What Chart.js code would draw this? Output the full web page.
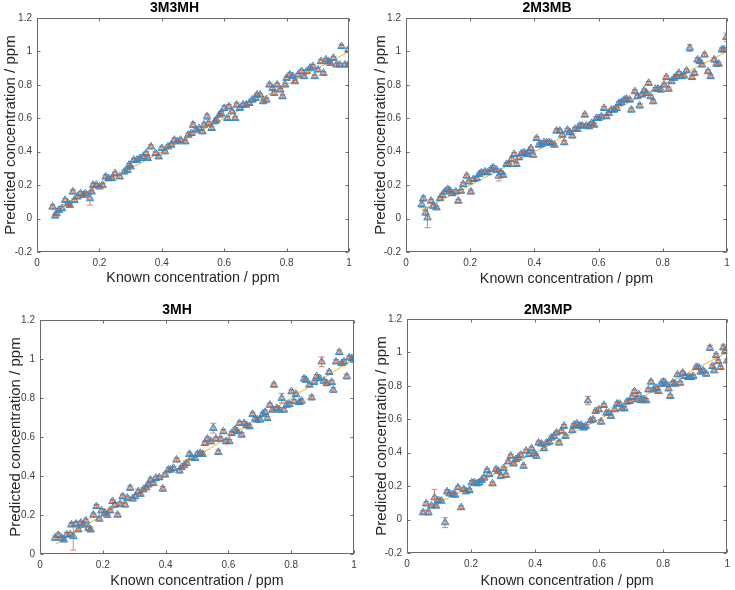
<!DOCTYPE html>
<html>
<head>
<meta charset="utf-8">
<script src="https://cdn.jsdelivr.net/npm/chart.js@4"></script>
<style>
  html,body{margin:0;padding:0;background:#fff;}
  body{width:735px;height:590px;position:relative;overflow:hidden;}
  canvas{position:absolute;}
</style>
</head>
<body>
<canvas id="c1" width="367" height="293" style="left:0px;top:0px"></canvas>
<canvas id="c2" width="368" height="293" style="left:367px;top:0px"></canvas>
<canvas id="c3" width="367" height="297" style="left:0px;top:293px"></canvas>
<canvas id="c4" width="368" height="297" style="left:367px;top:293px"></canvas>
<script>
// ---------- data ----------
const titles = ['3M3MH', '2M3MB', '3MH', '2M3MP'];
const xAxisTitle = 'Known concentration / ppm';
const yAxisTitle = 'Predicted concentration / ppm';
const xTickValues = [0, 0.2, 0.4, 0.6, 0.8, 1];
const xTickLabels = ['0', '0.2', '0.4', '0.6', '0.8', '1'];
const yTickValuesA = [-0.2, 0, 0.2, 0.4, 0.6, 0.8, 1, 1.2];
const yTickLabelsA = ['-0.2', '0', '0.2', '0.4', '0.6', '0.8', '1', '1.2'];
const yTickValuesB = [0, 0.2, 0.4, 0.6, 0.8, 1, 1.2];
const yTickLabelsB = ['0', '0.2', '0.4', '0.6', '0.8', '1', '1.2'];
const idealX = [0.05, 1];
const idealY = [0.05, 1];

// 3M3MH
const known1 = [0.050,0.058,0.063,0.070,0.080,0.090,0.100,0.105,0.115,0.120,
 0.130,0.140,0.150,0.155,0.170,0.175,0.180,0.190,0.200,0.210,
 0.220,0.230,0.240,0.250,0.265,0.280,0.290,0.295,0.300,0.310,
 0.320,0.330,0.340,0.350,0.355,0.365,0.380,0.390,0.400,0.410,
 0.420,0.430,0.440,0.450,0.460,0.475,0.485,0.495,0.500,0.510,
 0.520,0.530,0.535,0.545,0.550,0.560,0.570,0.575,0.585,0.590,
 0.600,0.610,0.615,0.625,0.635,0.640,0.650,0.660,0.670,0.680,
 0.690,0.700,0.705,0.715,0.725,0.735,0.745,0.755,0.760,0.770,
 0.780,0.787,0.795,0.800,0.810,0.820,0.827,0.837,0.848,0.856,
 0.864,0.875,0.884,0.890,0.900,0.910,0.918,0.926,0.934,0.940,
 0.950,0.960,0.970,0.976,0.987,0.998,0.998];
const pred1 = [0.070,0.016,0.030,0.050,0.060,0.110,0.090,0.080,0.160,0.110,
 0.130,0.150,0.140,0.150,0.120,0.160,0.200,0.200,0.190,0.200,
 0.250,0.240,0.240,0.270,0.250,0.280,0.290,0.320,0.310,0.350,
 0.350,0.360,0.370,0.390,0.360,0.430,0.390,0.370,0.420,0.400,
 0.430,0.440,0.470,0.460,0.470,0.460,0.500,0.510,0.560,0.530,
 0.540,0.520,0.560,0.610,0.570,0.540,0.580,0.590,0.620,0.630,
 0.660,0.600,0.670,0.640,0.600,0.680,0.660,0.680,0.680,0.690,
 0.710,0.720,0.740,0.740,0.700,0.710,0.800,0.780,0.750,0.800,
 0.770,0.730,0.800,0.840,0.860,0.850,0.820,0.860,0.880,0.850,
 0.880,0.900,0.910,0.850,0.890,0.940,0.870,0.950,0.940,0.930,
 0.960,0.920,0.920,1.030,0.920,1.010,0.920];
const err1 = [0.012,0.010,0.008,0.010,0.012,0.010,0.008,0.010,0.012,0.010,
 0.010,0.012,0.010,0.008,0.040,0.010,0.012,0.010,0.008,0.010,
 0.012,0.010,0.010,0.008,0.010,0.012,0.010,0.010,0.008,0.010,
 0.010,0.012,0.010,0.010,0.008,0.012,0.010,0.010,0.012,0.008,
 0.010,0.010,0.012,0.008,0.010,0.010,0.012,0.010,0.015,0.010,
 0.008,0.010,0.012,0.015,0.010,0.010,0.008,0.012,0.010,0.010,
 0.015,0.010,0.012,0.010,0.010,0.012,0.008,0.010,0.012,0.010,
 0.010,0.012,0.010,0.008,0.010,0.012,0.010,0.010,0.012,0.010,
 0.008,0.012,0.010,0.010,0.012,0.010,0.008,0.010,0.012,0.010,
 0.010,0.008,0.012,0.010,0.010,0.012,0.010,0.008,0.010,0.012,
 0.010,0.010,0.008,0.012,0.010,0.015,0.010];

// 2M3MB
const known2 = [0.049,0.054,0.061,0.067,0.078,0.085,0.095,0.106,0.113,0.121,
 0.130,0.137,0.144,0.155,0.163,0.171,0.178,0.189,0.196,0.202,
 0.210,0.220,0.228,0.235,0.246,0.254,0.265,0.272,0.282,0.289,
 0.296,0.303,0.313,0.320,0.329,0.337,0.344,0.352,0.360,0.368,
 0.376,0.383,0.389,0.396,0.407,0.414,0.422,0.430,0.438,0.445,
 0.453,0.462,0.469,0.479,0.487,0.493,0.503,0.510,0.518,0.526,
 0.534,0.541,0.549,0.557,0.562,0.570,0.578,0.586,0.593,0.600,
 0.609,0.617,0.624,0.632,0.640,0.648,0.656,0.663,0.671,0.680,
 0.687,0.697,0.702,0.713,0.721,0.728,0.735,0.742,0.749,0.756,
 0.762,0.770,0.777,0.785,0.794,0.804,0.811,0.818,0.827,0.835,
 0.842,0.850,0.858,0.866,0.874,0.884,0.891,0.899,0.908,0.915,
 0.922,0.930,0.941,0.949,0.960,0.967,0.974,0.984,0.991,0.998];
const pred2 = [0.085,0.120,0.035,0.005,0.105,0.075,0.065,0.120,0.140,0.160,
 0.175,0.165,0.150,0.160,0.105,0.165,0.205,0.255,0.220,0.160,
 0.235,0.240,0.265,0.275,0.280,0.275,0.295,0.305,0.290,0.255,
 0.275,0.260,0.325,0.325,0.355,0.385,0.325,0.365,0.390,0.395,
 0.385,0.400,0.420,0.380,0.480,0.440,0.445,0.455,0.455,0.455,
 0.450,0.440,0.525,0.525,0.500,0.455,0.530,0.515,0.495,0.535,
 0.535,0.555,0.555,0.620,0.555,0.550,0.570,0.560,0.600,0.600,
 0.610,0.660,0.610,0.630,0.650,0.650,0.660,0.690,0.695,0.710,
 0.715,0.710,0.650,0.760,0.730,0.675,0.740,0.765,0.750,0.810,
 0.730,0.700,0.775,0.775,0.770,0.800,0.845,0.775,0.820,0.840,
 0.850,0.870,0.850,0.855,0.885,1.020,0.845,0.870,0.950,0.940,
 0.920,0.980,0.880,0.850,0.950,0.925,0.925,1.010,1.010,1.085];
const err2 = [0.020,0.015,0.015,0.060,0.010,0.012,0.010,0.010,0.012,0.010,
 0.012,0.010,0.010,0.012,0.010,0.010,0.012,0.010,0.010,0.012,
 0.010,0.012,0.010,0.010,0.012,0.010,0.010,0.012,0.010,0.030,
 0.010,0.012,0.010,0.010,0.012,0.010,0.010,0.012,0.010,0.010,
 0.012,0.010,0.010,0.012,0.010,0.010,0.012,0.010,0.010,0.012,
 0.010,0.010,0.012,0.010,0.010,0.012,0.010,0.010,0.012,0.010,
 0.010,0.012,0.010,0.010,0.012,0.010,0.010,0.012,0.010,0.010,
 0.012,0.010,0.010,0.012,0.010,0.010,0.012,0.010,0.010,0.012,
 0.010,0.010,0.012,0.010,0.010,0.012,0.010,0.010,0.012,0.010,
 0.010,0.012,0.010,0.010,0.012,0.010,0.010,0.012,0.010,0.010,
 0.012,0.010,0.010,0.012,0.010,0.020,0.010,0.010,0.012,0.010,
 0.010,0.012,0.010,0.010,0.012,0.010,0.010,0.012,0.010,0.025];

// 3MH
const known3 = [0.048,0.058,0.069,0.076,0.085,0.096,0.100,0.106,0.115,0.122,
 0.130,0.138,0.146,0.154,0.161,0.170,0.180,0.189,0.196,0.207,
 0.214,0.223,0.231,0.239,0.247,0.255,0.263,0.271,0.278,0.287,
 0.295,0.303,0.313,0.320,0.329,0.338,0.345,0.352,0.361,0.369,
 0.380,0.391,0.398,0.409,0.416,0.425,0.435,0.444,0.451,0.459,
 0.467,0.476,0.483,0.494,0.501,0.510,0.518,0.525,0.533,0.544,
 0.552,0.560,0.568,0.575,0.584,0.592,0.603,0.610,0.621,0.628,
 0.635,0.642,0.650,0.658,0.667,0.677,0.685,0.692,0.701,0.709,
 0.717,0.724,0.732,0.741,0.745,0.754,0.762,0.770,0.777,0.786,
 0.794,0.801,0.809,0.815,0.826,0.833,0.841,0.847,0.858,0.865,
 0.873,0.881,0.890,0.897,0.904,0.913,0.921,0.929,0.934,0.943,
 0.953,0.961,0.968,0.977,0.985,0.993,1.000];
const pred3 = [0.082,0.096,0.082,0.073,0.099,0.100,0.150,0.090,0.154,0.125,
 0.159,0.150,0.170,0.133,0.125,0.200,0.244,0.180,0.222,0.210,
 0.200,0.222,0.270,0.252,0.200,0.256,0.295,0.252,0.287,0.338,
 0.283,0.295,0.320,0.307,0.330,0.341,0.355,0.380,0.363,0.389,
 0.392,0.334,0.406,0.432,0.432,0.440,0.483,0.427,0.444,0.454,
 0.466,0.512,0.495,0.491,0.512,0.517,0.512,0.568,0.590,0.577,
 0.645,0.590,0.522,0.590,0.628,0.577,0.577,0.619,0.636,0.628,
 0.670,0.611,0.670,0.659,0.654,0.717,0.693,0.688,0.688,0.717,
 0.727,0.696,0.764,0.739,0.867,0.747,0.739,0.799,0.739,0.764,
 0.768,0.833,0.782,0.819,0.778,0.785,0.898,0.892,0.867,0.802,
 0.881,0.910,0.901,0.986,0.887,0.875,0.932,0.881,0.841,0.986,
 1.034,0.978,0.986,0.910,1.007,1.003,0.995];
const err3 = [0.010,0.012,0.010,0.010,0.012,0.010,0.010,0.070,0.012,0.010,
 0.010,0.012,0.010,0.010,0.012,0.010,0.010,0.012,0.010,0.010,
 0.012,0.010,0.010,0.012,0.010,0.010,0.012,0.010,0.010,0.012,
 0.010,0.010,0.012,0.010,0.010,0.012,0.010,0.010,0.012,0.010,
 0.010,0.012,0.010,0.010,0.012,0.010,0.010,0.012,0.010,0.010,
 0.012,0.010,0.010,0.012,0.010,0.010,0.012,0.010,0.010,0.012,
 0.025,0.010,0.012,0.010,0.010,0.012,0.010,0.010,0.012,0.010,
 0.010,0.012,0.010,0.010,0.012,0.010,0.010,0.012,0.010,0.010,
 0.012,0.010,0.010,0.012,0.010,0.010,0.012,0.025,0.010,0.010,
 0.012,0.010,0.010,0.012,0.010,0.010,0.012,0.010,0.010,0.012,
 0.010,0.010,0.012,0.025,0.010,0.012,0.010,0.010,0.012,0.010,
 0.012,0.010,0.010,0.012,0.010,0.010,0.012];

// 2M3MP
const known4 = [0.050,0.060,0.067,0.076,0.086,0.091,0.098,0.107,0.119,0.125,
 0.133,0.143,0.150,0.159,0.169,0.177,0.184,0.195,0.202,0.210,
 0.219,0.226,0.233,0.241,0.250,0.257,0.267,0.278,0.285,0.293,
 0.302,0.309,0.316,0.324,0.333,0.340,0.347,0.355,0.364,0.372,
 0.381,0.389,0.397,0.404,0.411,0.420,0.428,0.436,0.444,0.451,
 0.459,0.467,0.475,0.482,0.490,0.495,0.516,0.521,0.530,0.537,
 0.544,0.552,0.558,0.565,0.573,0.581,0.589,0.599,0.606,0.615,
 0.623,0.630,0.637,0.648,0.656,0.664,0.671,0.679,0.687,0.695,
 0.703,0.710,0.716,0.724,0.731,0.739,0.747,0.754,0.762,0.770,
 0.778,0.785,0.793,0.801,0.809,0.817,0.822,0.830,0.837,0.845,
 0.853,0.861,0.868,0.879,0.886,0.894,0.903,0.910,0.917,0.925,
 0.934,0.946,0.954,0.959,0.965,0.972,0.979,0.988,0.993,1.000];
const pred4 = [0.042,0.095,0.042,0.082,0.131,0.082,0.115,0.111,-0.018,0.167,
 0.155,0.151,0.147,0.191,0.072,0.181,0.167,0.175,0.221,0.221,
 0.215,0.221,0.235,0.250,0.294,0.270,0.215,0.300,0.290,0.260,
 0.306,0.266,0.346,0.380,0.334,0.360,0.370,0.386,0.320,0.410,
 0.390,0.425,0.394,0.380,0.459,0.453,0.425,0.459,0.465,0.489,
 0.499,0.519,0.459,0.529,0.559,0.499,0.533,0.565,0.573,0.559,
 0.565,0.549,0.559,0.712,0.592,0.598,0.648,0.658,0.584,0.684,
 0.638,0.638,0.618,0.658,0.692,0.692,0.664,0.664,0.704,0.708,
 0.732,0.767,0.718,0.748,0.712,0.718,0.712,0.777,0.823,0.777,
 0.787,0.767,0.811,0.823,0.811,0.783,0.738,0.817,0.811,0.867,
 0.817,0.877,0.857,0.851,0.851,0.857,0.911,0.911,0.883,0.891,
 0.871,1.026,0.917,0.891,0.982,0.946,0.911,1.030,1.006,0.950];
const err4 = [0.010,0.012,0.015,0.010,0.050,0.012,0.010,0.010,0.030,0.012,
 0.010,0.010,0.012,0.010,0.010,0.012,0.010,0.010,0.012,0.010,
 0.010,0.012,0.010,0.015,0.010,0.012,0.010,0.010,0.012,0.010,
 0.010,0.012,0.010,0.010,0.012,0.010,0.010,0.012,0.010,0.010,
 0.012,0.010,0.010,0.012,0.010,0.010,0.012,0.010,0.010,0.012,
 0.010,0.010,0.012,0.010,0.010,0.012,0.010,0.010,0.012,0.010,
 0.010,0.012,0.010,0.025,0.010,0.012,0.010,0.010,0.012,0.010,
 0.010,0.012,0.010,0.010,0.012,0.010,0.010,0.012,0.010,0.010,
 0.012,0.010,0.010,0.012,0.010,0.010,0.012,0.010,0.010,0.012,
 0.010,0.010,0.012,0.020,0.010,0.012,0.010,0.010,0.012,0.010,
 0.010,0.012,0.010,0.010,0.012,0.010,0.010,0.012,0.010,0.010,
 0.012,0.015,0.010,0.010,0.012,0.010,0.010,0.015,0.010,0.010];

// ---------- drawing ----------
const FONT = '"Liberation Sans", Arial, Helvetica, sans-serif';
const BLUE = '#2b8ad2', ORANGE = '#D95319', YELLOW = '#EDB120';

const matlabPlugin = {
  id: 'matlabLook',
  beforeDatasetDraw(chart, args) {
    if (args.index !== 1) return;
    const ds = chart.data.datasets[1];
    const errs = ds.errors;
    const xs = chart.scales.x, ys = chart.scales.y, ctx = chart.ctx, a = chart.chartArea;
    ctx.save();
    ctx.beginPath();
    ctx.rect(a.left, a.top, a.right - a.left, a.bottom - a.top);
    ctx.clip();
    ctx.strokeStyle = ORANGE;
    ctx.globalAlpha = 0.7;
    ctx.lineWidth = 1;
    ctx.beginPath();
    ds.data.forEach((p, i) => {
      const px = xs.getPixelForValue(p.x);
      const y1 = ys.getPixelForValue(p.y - errs[i]);
      const y2 = ys.getPixelForValue(p.y + errs[i]);
      ctx.moveTo(px, y1); ctx.lineTo(px, y2);
      ctx.moveTo(px - 3, y1); ctx.lineTo(px + 3, y1);
      ctx.moveTo(px - 3, y2); ctx.lineTo(px + 3, y2);
    });
    ctx.stroke();
    ctx.restore();
  },
  afterDraw(chart) {
    const ctx = chart.ctx, a = chart.chartArea, xs = chart.scales.x, ys = chart.scales.y;
    const L = Math.round(a.left) + 0.5, R = Math.round(a.right) - 0.5;
    const T = Math.round(a.top) + 0.5, B = Math.round(a.bottom) - 0.5;
    ctx.save();
    ctx.strokeStyle = '#6a6a6a';
    ctx.lineWidth = 1;
    ctx.strokeRect(L, T, R - L, B - T);
    ctx.beginPath();
    xs.ticks.forEach(t => {
      const px = Math.round(xs.getPixelForValue(t.value)) + 0.5;
      ctx.moveTo(px, B); ctx.lineTo(px, B - 3);
      ctx.moveTo(px, T); ctx.lineTo(px, T + 3);
    });
    ys.ticks.forEach(t => {
      const py = Math.round(ys.getPixelForValue(t.value)) + 0.5;
      ctx.moveTo(L, py); ctx.lineTo(L + 3, py);
      ctx.moveTo(R, py); ctx.lineTo(R - 3, py);
    });
    ctx.stroke();
    ctx.restore();
  }
};

function makePlot(id, cfg) {
  const cv = document.getElementById(id);
  const W = cv.width, H = cv.height;
  const pts = cfg.known.map((x, i) => ({x: x, y: cfg.pred[i]}));
  const ideal = idealX.map((x, i) => ({x: x, y: idealY[i]}));
  const titleLH = 14 * 1.2;
  const tPadTop = cfg.titleCY - titleLH / 2;
  const tPadBottom = cfg.area.t - tPadTop - titleLH;
  const xLH = 14.3 * 1.2, yLH = 15 * 1.2;
  new Chart(cv, {
    type: 'scatter',
    data: {
      datasets: [
        {data: pts, pointStyle: 'triangle', pointRadius: 4.4, borderColor: BLUE,
         backgroundColor: 'rgba(0,0,0,0)', borderWidth: 1, pointHoverRadius: 4.4},
        {data: pts, errors: cfg.err, pointStyle: 'triangle', pointRadius: 2.6, borderColor: ORANGE,
         backgroundColor: 'rgba(0,0,0,0)', borderWidth: 0.8, pointHoverRadius: 2.6},
        {data: ideal, showLine: true, borderColor: YELLOW, borderWidth: 1, pointRadius: 0,
         backgroundColor: YELLOW, fill: false}
      ]
    },
    options: {
      responsive: false, animation: false, devicePixelRatio: 1,
      events: [],
      layout: {padding: {left: 0, top: 0, bottom: 0, right: W - cfg.area.r}},
      plugins: {
        legend: {display: false}, tooltip: {enabled: false},
        title: {display: true, text: cfg.title, color: '#000',
          font: {family: FONT, size: 14, weight: 'bold', lineHeight: 1.2},
          padding: {top: tPadTop, bottom: tPadBottom}}
      },
      scales: {
        x: {
          type: 'linear', min: 0, max: 1,
          grid: {display: false, drawTicks: false}, border: {display: false},
          afterBuildTicks: s => { s.ticks = xTickValues.map(v => ({value: v})); },
          ticks: {padding: 5, color: '#404040', font: {family: FONT, size: 10},
            maxRotation: 0, autoSkip: false,
            callback: (v, i) => xTickLabels[i]},
          title: {display: true, text: xAxisTitle, color: '#262626',
            font: {family: FONT, size: 14.3, lineHeight: 1.2},
            padding: {top: 0, bottom: H - cfg.xTitleCY - xLH / 2}},
          afterFit: s => { s.height = H - cfg.area.b; }
        },
        y: {
          type: 'linear', min: cfg.yVals[0], max: cfg.yVals[cfg.yVals.length - 1],
          grid: {display: false, drawTicks: false}, border: {display: false},
          afterBuildTicks: s => { s.ticks = cfg.yVals.map(v => ({value: v})); },
          ticks: {padding: 5, color: '#404040', font: {family: FONT, size: 10},
            autoSkip: false, callback: (v, i) => cfg.yLabels[i]},
          title: {display: true, text: yAxisTitle, color: '#262626',
            font: {family: FONT, size: 15, lineHeight: 1.2},
            padding: {top: cfg.yTitleCX - yLH / 2, bottom: 0}},
          afterFit: s => { s.width = cfg.area.l; }
        }
      }
    },
    plugins: [matlabPlugin]
  });
}

makePlot('c1', {title: titles[0], known: known1, pred: pred1, err: err1,
  yVals: yTickValuesA, yLabels: yTickLabelsA,
  area: {l: 37, t: 18, r: 349, b: 252}, titleCY: 8, xTitleCY: 278, yTitleCX: 11});
makePlot('c2', {title: titles[1], known: known2, pred: pred2, err: err2,
  yVals: yTickValuesA, yLabels: yTickLabelsA,
  area: {l: 39, t: 18, r: 360, b: 252}, titleCY: 8, xTitleCY: 279, yTitleCX: 14});
makePlot('c3', {title: titles[2], known: known3, pred: pred3, err: err3,
  yVals: yTickValuesB, yLabels: yTickLabelsB,
  area: {l: 40, t: 27, r: 354, b: 261}, titleCY: 17, xTitleCY: 288, yTitleCX: 16});
makePlot('c4', {title: titles[3], known: known4, pred: pred4, err: err4,
  yVals: yTickValuesA, yLabels: yTickLabelsA,
  area: {l: 40, t: 26, r: 362, b: 260}, titleCY: 17, xTitleCY: 288, yTitleCX: 15});
</script>
</body>
</html>
